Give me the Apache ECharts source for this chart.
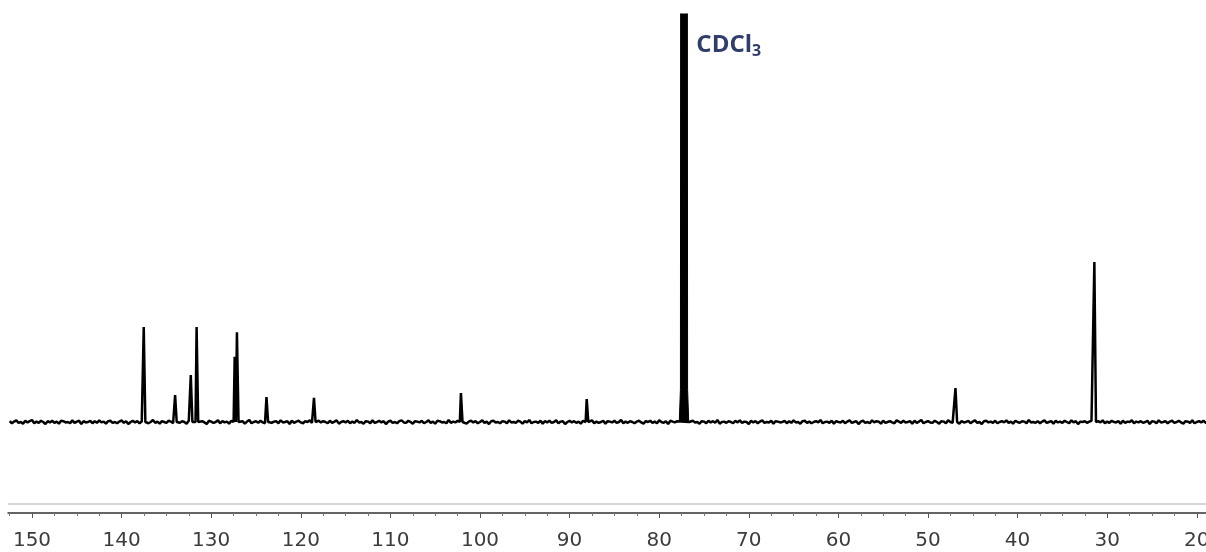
<!DOCTYPE html>
<html><head><meta charset="utf-8">
<script src="https://cdn.jsdelivr.net/npm/echarts@6/dist/echarts.min.js"></script>
<style>html,body{margin:0;padding:0;background:#fff}#c{width:1206px;height:552px}</style>
</head><body><div id="c"></div>
<script>
// baseline noise samples (ppm start / step)
const baseStart = 152.5, baseStep = 0.25;
const noise = [
0.2,-0.3,0.1,0.4,-0.2,0.0,-0.4,0.3,-0.1,0.2,0.5,-0.3,0.1,-0.2,0.3,0.0,-0.5,0.2,-0.1,0.3,
-0.2,0.1,-0.4,0.3,0.2,-0.1,0.0,-0.3,0.4,-0.2,0.1,0.3,-0.5,0.2,-0.1,0.0,0.3,-0.3,0.2,-0.2,
0.4,-0.1,0.1,-0.4,0.2,0.3,-0.2,0.0,-0.3,0.1,0.4,-0.2,0.2,-0.5,0.0,0.3,-0.1,0.2,-0.3,0.1,
-0.1,0.3,-0.3,0.0,0.5,-0.2,0.1,-0.4,0.2,0.0,-0.2,0.3,0.1,-0.3,0.4,-0.1,-0.2,0.2,0.0,-0.4,
0.3,0.1,-0.2,0.4,-0.3,0.0,0.2,-0.1,-0.5,0.3,0.1,-0.2,0.0,0.4,-0.3,0.2,-0.1,0.1,-0.4,0.3,
0.0,-0.2,0.3,-0.1,0.2,-0.4,0.1,0.5,-0.3,0.0,0.2,-0.2,0.3,-0.1,-0.3,0.4,0.0,-0.2,0.1,0.2,
-0.3,0.4,-0.1,0.0,0.2,-0.5,0.3,-0.2,0.1,0.3,-0.1,-0.3,0.2,0.0,0.4,-0.2,0.1,-0.4,0.3,-0.1,
0.2,0.0,-0.3,0.3,-0.2,0.1,0.4,-0.4,0.0,0.2,-0.1,0.3,-0.3,0.1,-0.2,0.5,-0.1,0.0,-0.4,0.2,
0.1,-0.3,0.4,-0.2,0.0,0.3,-0.1,0.2,-0.5,0.1,0.3,-0.2,0.0,-0.3,0.2,0.4,-0.1,-0.2,0.3,0.0,
-0.4,0.2,0.1,-0.1,0.3,-0.3,0.0,0.4,-0.2,0.1,-0.4,0.3,0.2,-0.1,0.0,-0.3,0.5,-0.2,0.1,-0.1,
0.3,-0.2,0.0,0.2,-0.4,0.1,0.3,-0.1,0.2,-0.3,0.0,0.4,-0.2,0.1,-0.5,0.2,0.3,-0.1,0.0,-0.3,
0.2,0.1,-0.3,0.4,-0.1,0.0,-0.2,0.3,0.1,-0.4,0.2,-0.1,0.5,-0.3,0.0,0.1,-0.2,0.3,-0.4,0.2,
-0.1,0.3,-0.2,0.0,0.4,-0.3,0.1,0.2,-0.5,0.0,0.3,-0.1,0.2,-0.2,0.1,-0.4,0.3,0.0,-0.1,0.2,
0.4,-0.3,0.1,-0.2,0.0,0.3,-0.4,0.2,0.1,-0.1,0.3,-0.2,0.0,0.5,-0.3,0.1,-0.2,0.2,0.0,-0.3,
0.1,0.3,-0.1,-0.4,0.2,0.0,0.3,-0.2,0.1,-0.3,0.4,0.0,-0.2,0.2,-0.5,0.3,0.1,-0.1,0.2,-0.2,
0.0,-0.3,0.4,0.1,-0.2,0.3,-0.1,0.0,-0.4,0.2,0.1,-0.3,0.3,-0.1,0.2,-0.2,0.5,-0.4,0.0,0.1,
-0.2,0.2,0.0,-0.3,0.3,-0.1,0.4,-0.2,0.1,0.0,-0.5,0.3,-0.1,0.2,-0.3,0.1,0.4,-0.2,0.0,-0.1,
0.3,-0.4,0.2,0.1,-0.1,0.0,0.3,-0.3,0.2,-0.2,0.4,-0.1,0.0,-0.4,0.2,0.3,-0.2,0.1,-0.3,0.0,
0.2,-0.1,0.5,-0.3,0.0,0.1,-0.2,0.3,-0.4,0.2,0.0,-0.1,0.3,-0.3,0.1,0.4,-0.2,0.0,0.2,-0.5,
0.1,0.3,-0.2,0.0,-0.3,0.4,-0.1,0.2,0.1,-0.4,0.3,-0.2,0.0,0.2,-0.1,-0.3,0.4,0.1,-0.2,0.3,
-0.1,0.0,0.2,-0.4,0.3,-0.2,0.1,0.5,-0.3,0.0,0.2,-0.1,-0.2,0.3,0.0,-0.4,0.2,0.1,-0.3,0.4,
0.0,-0.2,0.3,0.1,-0.4,0.2,-0.1,0.0,0.3,-0.3,0.1,0.4,-0.2,0.0,-0.5,0.2,0.3,-0.1,0.1,-0.2,
0.3,-0.3,0.0,0.2,-0.1,0.4,-0.2,0.1,-0.4,0.3,0.0,-0.2,0.2,0.1,-0.3,0.5,-0.1,0.0,-0.2,0.2,
-0.3,0.1,0.4,-0.2,0.0,0.2,-0.4,0.3,-0.1,0.1,-0.2,0.3,0.0,-0.3,0.4,-0.1,0.2,-0.5,0.1,0.0,
0.2,-0.2,0.1,0.3,-0.4,0.0,0.2,-0.1,0.4,-0.3,0.1,-0.2,0.3,0.0,-0.1,0.2,-0.4,0.3,-0.2,0.1,
0.0,0.4,-0.3,0.1,-0.1,0.2,-0.2,0.0,0.3,-0.5,0.2,0.1,-0.3,0.4,-0.1,0.0,0.2,-0.3,0.1,0.3,
-0.2,0.0,0.3,-0.1,-0.4,0.2,0.1,-0.2,0.4,-0.3,0.0,0.2,-0.1,0.3,-0.2,0.1,-0.4,0.2,0.0,-0.1
];
// peaks (ppm, intensity)
const peakPpm    = [137.5, 134.0, 132.25, 131.6, 127.35, 127.1, 123.8, 118.5, 102.1, 88.06, 46.9, 31.4];
const peakHeight = [23.3,  6.6,   11.5,   23.3,  16.0,   22.0,  6.1,   5.9,   7.1,   5.6,   8.3,  39.2];
// solvent (CDCl3) block
const solventPpm    = [77.76, 77.63, 77.6, 76.86, 76.83, 76.7];
const solventHeight = [0, 8, 130, 130, 8, 0];
const solventLabelPpm = 76.8, solventLabelY = 92.4;
// axis
const xLabelValues = [150,140,130,120,110,100,90,80,70,60,50,40,30,20];
const xMinorTicks = [152.5,147.5,145,142.5,137.5,135,132.5,127.5,125,122.5,117.5,115,112.5,107.5,105,102.5,97.5,95,92.5,87.5,85,82.5,77.5,75,72.5,67.5,65,62.5,57.5,55,52.5,47.5,45,42.5,37.5,35,32.5,27.5,25,22.5];

const pts = [];
noise.forEach((v, i) => {
  const x = baseStart - i * baseStep;
  const nearPeak = peakPpm.some(p => Math.abs(p - x) < 0.2);
  const nearSolv = x < 77.8 && x > 76.65;
  if (!nearPeak && !nearSolv) pts.push([x, v]);
});
peakPpm.forEach((p, i) => {
  pts.push([p + 0.15, 0]); pts.push([p + 0.03, peakHeight[i]]);
  pts.push([p - 0.03, peakHeight[i]]); pts.push([p - 0.15, 0]);
});
pts.push([77.8, 0]); pts.push([76.65, 0]);
pts.sort((a, b) => b[0] - a[0]);
const solv = solventPpm.map((p, i) => [p, solventHeight[i]]);

const chart = echarts.init(document.getElementById('c'), null, {renderer: 'canvas', width: 1206, height: 552});
const xCommon = { type: 'value', min: 18.97, max: 152.68, inverse: true, position: 'bottom', splitLine: {show: false} };
chart.setOption({
  animation: false,
  backgroundColor: '#fff',
  grid: { left: 8, right: 0, top: 14, bottom: 39, containLabel: false, outerBoundsMode: 'none' },
  xAxis: [
    Object.assign({}, xCommon, {
      axisLine: { show: true, onZero: false, lineStyle: { color: '#333', width: 1.5 } },
      axisTick: { show: true, customValues: xLabelValues, length: 5, lineStyle: { color: '#555', width: 1 } },
      axisLabel: { show: true, customValues: xLabelValues, margin: 18, fontSize: 20, color: '#3c3c3c', fontFamily: 'DejaVu Sans' }
    }),
    Object.assign({}, xCommon, {
      axisLine: { show: false, onZero: false },
      axisTick: { show: true, customValues: xMinorTicks, length: 3, lineStyle: { color: '#777', width: 1 } },
      axisLabel: { show: false }
    })
  ],
  yAxis: { type: 'value', min: -22.3, max: 100, show: false },
  series: [
    {
      type: 'line', data: pts, showSymbol: false, symbol: 'none',
      lineStyle: { color: '#000', width: 2.5 }, clip: true,
      markLine: { silent: true, symbol: 'none', label: { show: false },
        lineStyle: { color: '#d6d6d6', width: 2, type: 'solid' },
        data: [{ yAxis: -20.1 }] }
    },
    {
      type: 'line', data: solv, showSymbol: false, symbol: 'none',
      lineStyle: { color: '#000', width: 1 }, areaStyle: { color: '#000', opacity: 1 }, clip: true,
      markPoint: {
        symbol: 'circle', symbolSize: 1, itemStyle: { color: 'rgba(0,0,0,0)' },
        data: [{ coord: [solventLabelPpm, solventLabelY] }],
        label: {
          show: true, position: 'right', distance: 8,
          formatter: '{a|CDCl}{b|3}',
          rich: {
            a: { fontSize: 24, fontWeight: 'bold', color: '#2f3e6b', fontFamily: 'Open Sans' },
            b: { fontSize: 16, fontWeight: 'bold', color: '#2f3e6b', fontFamily: 'Open Sans', padding: [13, 0, 0, 0] }
          }
        }
      }
    }
  ]
});
</script></body></html>
